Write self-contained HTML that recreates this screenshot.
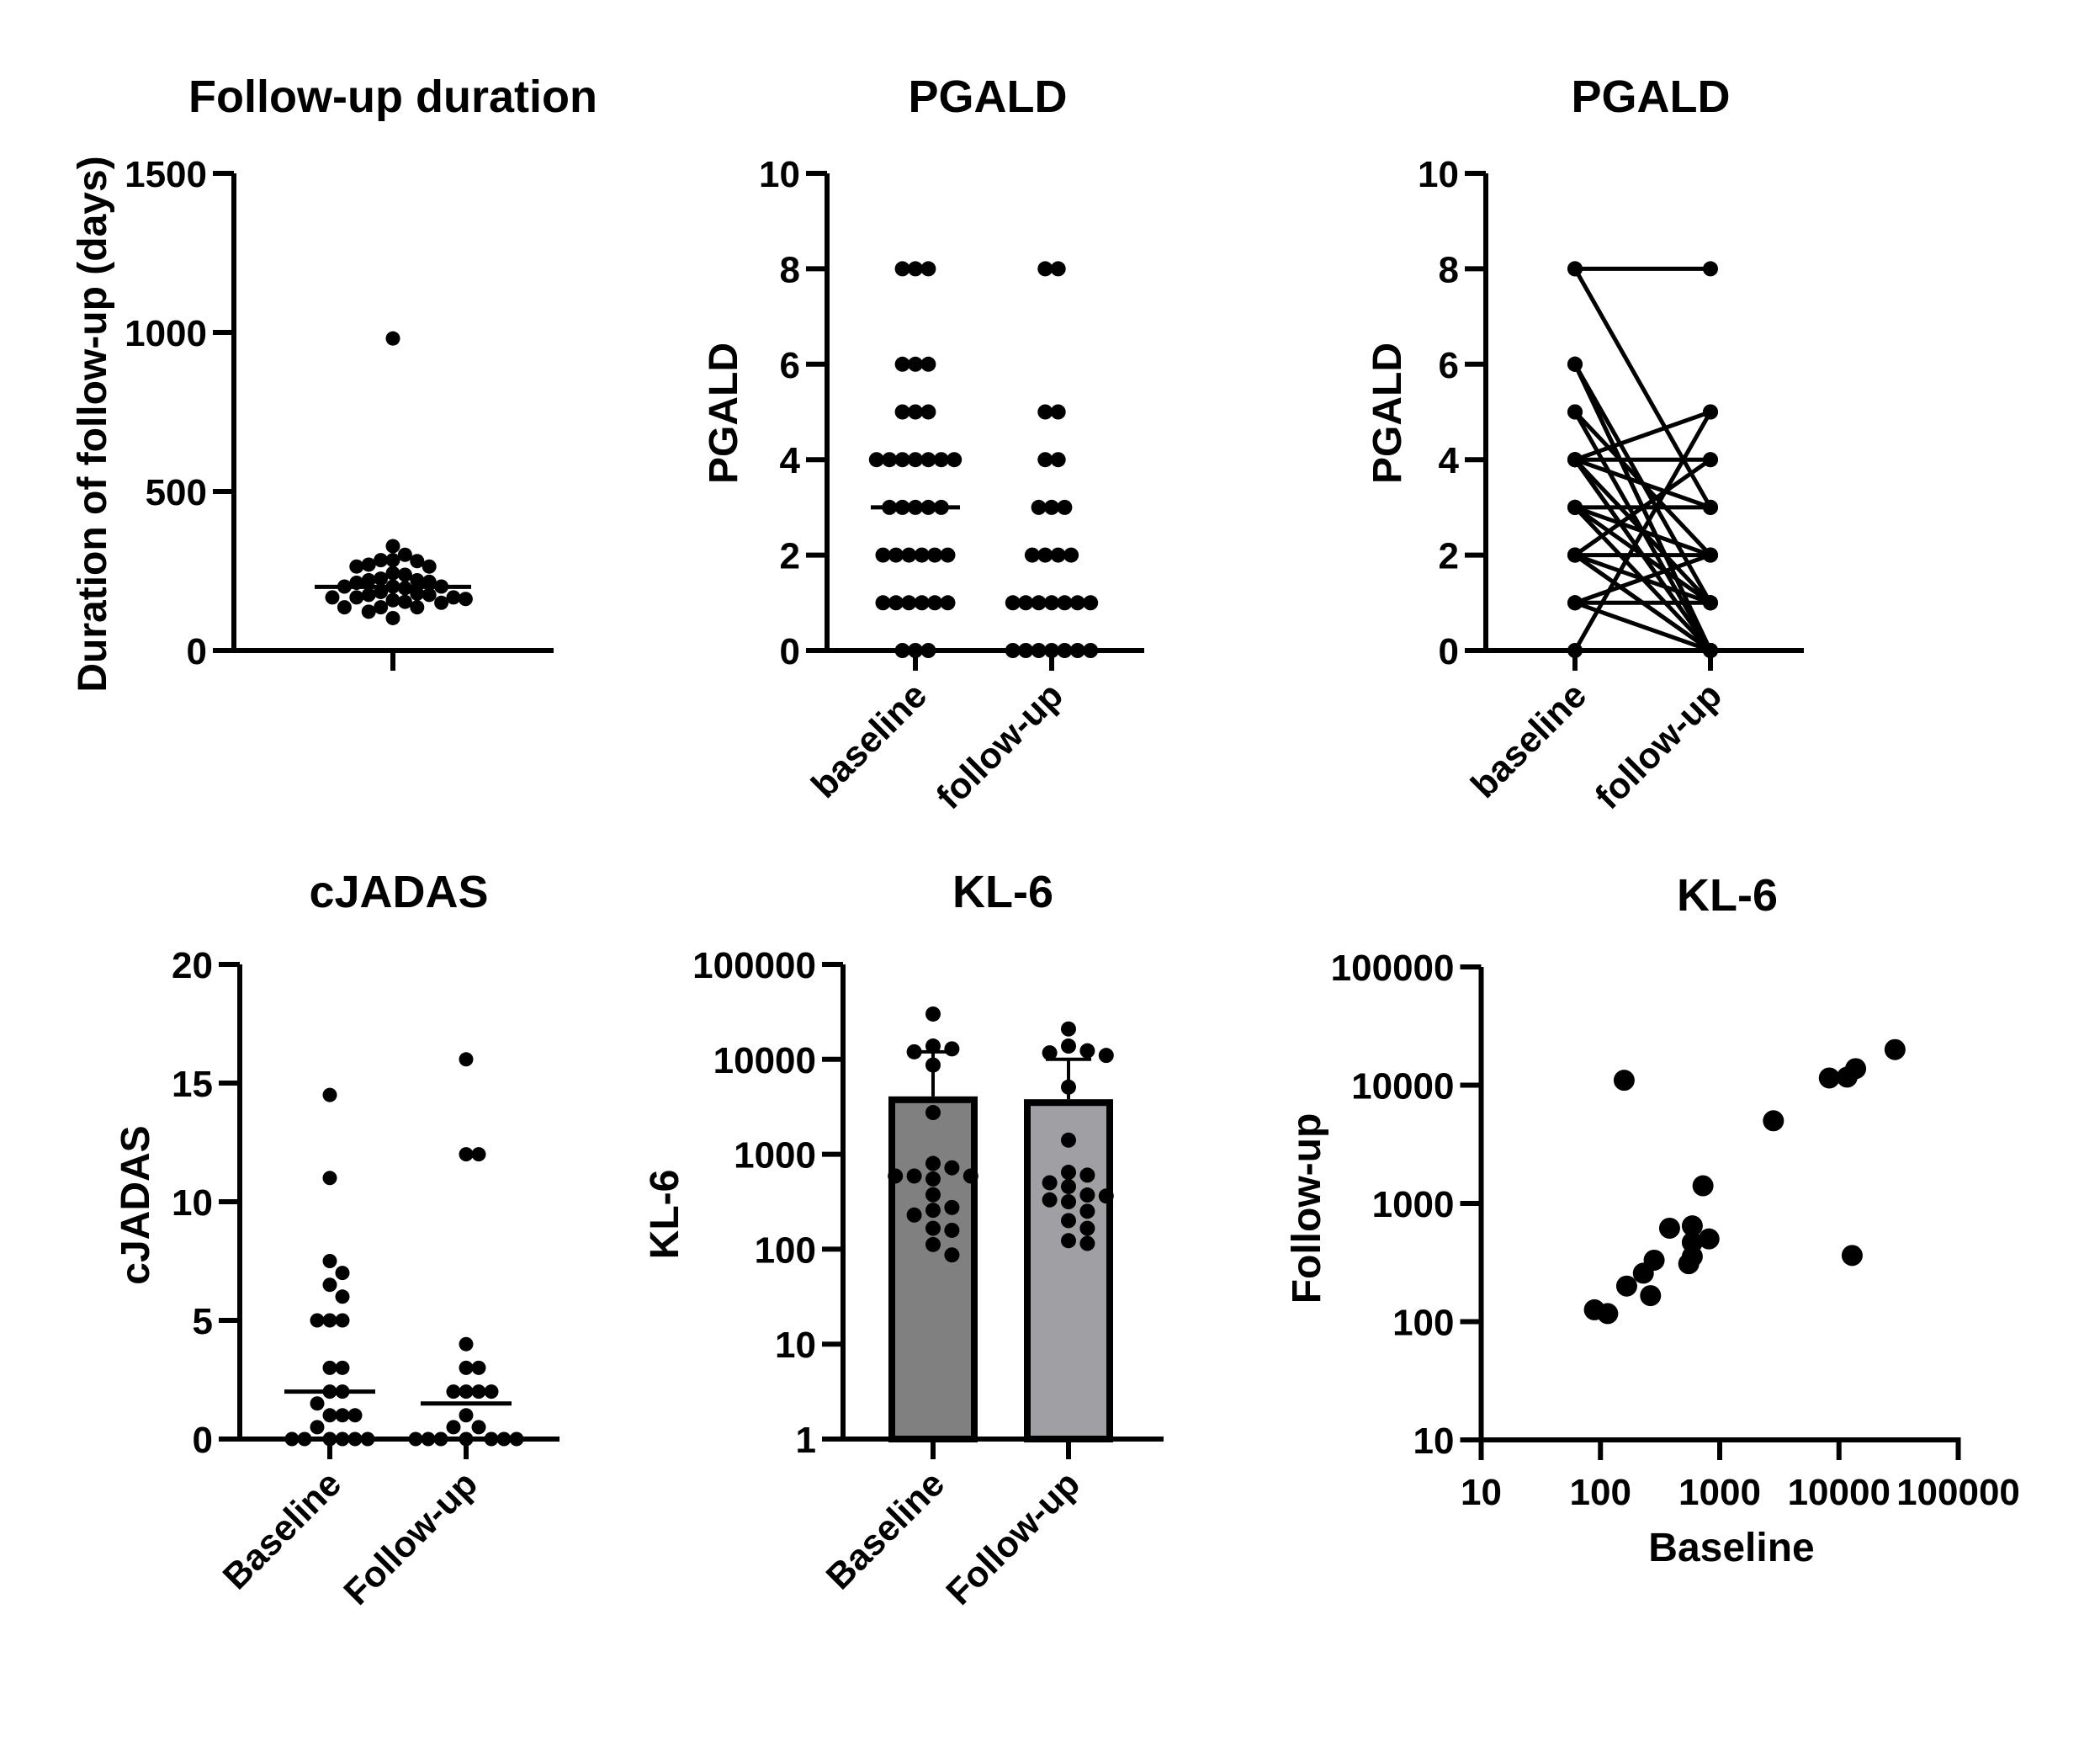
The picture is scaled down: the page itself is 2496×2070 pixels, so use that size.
<!DOCTYPE html>
<html><head><meta charset="utf-8"><title>Clinical panels</title>
<style>
html,body{margin:0;padding:0;background:#fff;}
svg{display:block;font-family:"Liberation Sans",Arial,sans-serif;font-weight:bold;}
</style></head>
<body>
<svg id="fig" width="2496" height="2070" viewBox="0 0 2496 2070" xmlns="http://www.w3.org/2000/svg">
<rect x="0" y="0" width="2496" height="2070" fill="#fff"/>
</svg>
<script>
// ---- Panel 1: follow-up duration (days)
const durTicks = [0, 500, 1000, 1500];
const durValues = [981,328,301,284,284,264,281,264,270,238,243,226,221,221,216,213,201,201,196,201,184,167,175,175,167,167,179,162,153,158,136,136,150,136,122,102];
const durMedian = [200];
// ---- Panel 2: PGALD dot plot
const pgaldCats = ['baseline','follow-up'];
const pgaldTicks = [0,2,4,6,8,10];
const pgaldBaseline = [8,8,8,6,6,6,5,5,5,4,4,4,4,4,4,4,3,3,3,3,3,2,2,2,2,2,2,1,1,1,1,1,1,0,0,0];
const pgaldFollow = [8,8,5,5,4,4,3,3,3,2,2,2,2,1,1,1,1,1,1,1,0,0,0,0,0,0,0];
const pgaldMedians = [3,1];
// ---- Panel 3: PGALD paired
const pairBase = [8,8,6,6,6,5,5,4,4,4,4,4,4,3,3,3,3,2,2,2,2,2,1,1,1,0];
const pairFollow = [8,3,1,0,0,2,0,5,4,3,1,0,0,3,2,1,0,4,2,1,0,0,2,1,0,5];
// ---- Panel 4: cJADAS
const cjCats = ['Baseline','Follow-up'];
const cjTicks = [0,5,10,15,20];
const cjBaseline = [14.5,11,7.5,7,6.5,6,5,5,5,3,3,2,2,1.5,1,1,1,0.5,0,0,0,0,0,0];
const cjFollow = [16,12,12,4,3,3,2,2,2,2,1,0.5,0.5,0,0,0,0,0,0,0];
const cjMedians = [2,1.5];
// ---- Panel 5: KL-6 bars (log)
const klCats = ['Baseline','Follow-up'];
const klTicks = [1,10,100,1000,10000,100000];
const klMeans = [4070,3800];
const klSdTop = [12000,10000];
const klBaseline = [30000,12000,13800,12900,8700,2750,800,720,590,590,590,550,375,275,257,229,158,166,112,87];
const klFollow = [20900,11000,12300,13800,11700,5100,1410,646,603,331,372,457,316,501,363,251,166,200,123,115];
// ---- Panel 6: KL-6 scatter (log-log)
const scTicks = [10,100,1000,10000,100000];
const scBaseline = [158,29500,8300,11700,13800,2820,724,380,589,589,813,589,550,282,229,166,263,89,115,12900];
const scFollow = [11000,20000,11500,11700,13800,5000,1410,617,646,468,501,355,309,331,257,200,166,126,117,363];
const klFill = ['#808080','#a0a0a4'];

const NS = 'http://www.w3.org/2000/svg';
const svg = document.getElementById('fig');
function mk(tag, attrs, parent){
  const el = document.createElementNS(NS, tag);
  for (const k in attrs) el.setAttribute(k, attrs[k]);
  (parent || svg).appendChild(el);
  return el;
}
function group(name){
  const g = mk('g', {});
  
  
  return g;
}
function line(g, x1,y1,x2,y2,w,name){
  const l = mk('line',{x1:x1,y1:y1,x2:x2,y2:y2,stroke:'#000','stroke-width':w},g);
  
  
  return l;
}
function text(g, str, x, y, size, anchor, name, extra){
  const t = mk('text',{x:x,y:y,'font-size':size,'text-anchor':anchor,fill:'#000'},g);
  if (extra) for (const k in extra) t.setAttribute(k, extra[k]);
  t.textContent = str;
  
  
  return t;
}
function dot(g, x, y, r, name){
  const c = mk('circle',{cx:x,cy:y,r:r,fill:'#000'},g);
  
  
  return c;
}
const AX = 6, TICK = 25, TS = 44, TITLE = 54, ATS = 48;
function yAxis(g, ax, yTop, yBot, ticks, ys){
  line(g, ax, yTop, ax, yBot + AX/2, AX, 'y-axis-line');
  ticks.forEach(function(t){
    const y = ys(t);
    line(g, ax - TICK, y, ax, y, AX, 'y-tick');
    text(g, String(t), ax - TICK - 7, y + 16, TS, 'end', 'y-tick-label');
  });
}
function beeswarm(vals, ys, step, r){
  const placed = [];
  const order = vals.map(function(v,i){return i;}).sort(function(a,b){return vals[b]-vals[a];});
  const out = new Array(vals.length);
  order.forEach(function(i){
    const y = ys(vals[i]);
    const cands = [0];
    for (let k=1;k<12;k++){ cands.push(k); cands.push(-k); }
    for (const k of cands){
      const ok = placed.every(function(p){ return p.k !== k || Math.abs(p.y - y) >= 2*r - 2; });
      if (ok){ placed.push({k:k,y:y}); out[i] = k*step; break; }
    }
  });
  return out;
}
function centered(vals, step){
  const counts = {}, idx = {};
  vals.forEach(function(v){ counts[v] = (counts[v]||0)+1; });
  return vals.map(function(v){
    idx[v] = (idx[v]||0);
    const o = (idx[v] - (counts[v]-1)/2) * step;
    idx[v]++;
    return o;
  });
}
function rotLabel(g, str, x, y, name){
  return text(g, str, x, y, 43, 'end', name, {transform:'rotate(-45 '+x+' '+y+')'});
}

// ================= Panel 1
(function(){
  const g = group('panel-follow-up-duration');
  const ax = 278, y0 = 773, yTop = 206;
  const ys = function(v){ return y0 - v/1500*(y0-yTop); };
  text(g, 'Follow-up duration', 467, 133, TITLE, 'middle', 'chart-title');
  text(g, 'Duration of follow-up (days)', 0, 0, ATS, 'middle', 'y-axis-title', {transform:'translate(126 504) rotate(-90)'});
  yAxis(g, ax, yTop, y0, durTicks, ys);
  line(g, ax - TICK, y0, 658, y0, AX, 'x-axis-line');
  line(g, 467, y0, 467, y0 + 24, AX, 'x-tick');
  const off = beeswarm(durValues, ys, 14.4, 8.5);
  durValues.forEach(function(v,i){ dot(g, 467 + off[i], ys(v), 8.5, 'duration-dot'); });
  line(g, 467 - 93, ys(durMedian[0]), 467 + 93, ys(durMedian[0]), 5, 'median-line');
})();

// ================= Panel 2
(function(){
  const g = group('panel-pgald-dots');
  const ax = 983, y0 = 773, yTop = 206;
  const ys = function(v){ return y0 - v/10*(y0-yTop); };
  const xs = [1088, 1250];
  text(g, 'PGALD', 1174, 133, TITLE, 'middle', 'chart-title');
  text(g, 'PGALD', 0, 0, ATS, 'middle', 'y-axis-title', {transform:'translate(876 491) rotate(-90)'});
  yAxis(g, ax, yTop, y0, pgaldTicks, ys);
  line(g, ax - TICK, y0, 1360, y0, AX, 'x-axis-line');
  [pgaldBaseline, pgaldFollow].forEach(function(vals, c){
    line(g, xs[c], y0, xs[c], y0 + 24, AX, 'x-tick');
    rotLabel(g, pgaldCats[c], xs[c] + 16, y0 + 56, 'x-tick-label');
    const off = centered(vals, 15.4);
    vals.forEach(function(v,i){ dot(g, xs[c] + off[i], ys(v), 9, 'pgald-dot-' + pgaldCats[c]); });
    line(g, xs[c] - 53, ys(pgaldMedians[c]), xs[c] + 53, ys(pgaldMedians[c]), 5, 'median-line');
  });
})();

// ================= Panel 3
(function(){
  const g = group('panel-pgald-paired');
  const ax = 1766, y0 = 773, yTop = 206;
  const ys = function(v){ return y0 - v/10*(y0-yTop); };
  const xs = [1872, 2033];
  text(g, 'PGALD', 1962, 133, TITLE, 'middle', 'chart-title');
  text(g, 'PGALD', 0, 0, ATS, 'middle', 'y-axis-title', {transform:'translate(1665 491) rotate(-90)'});
  yAxis(g, ax, yTop, y0, pgaldTicks, ys);
  line(g, ax - TICK, y0, 2144, y0, AX, 'x-axis-line');
  xs.forEach(function(x, c){
    line(g, x, y0, x, y0 + 24, AX, 'x-tick');
    rotLabel(g, pgaldCats[c], x + 16, y0 + 56, 'x-tick-label');
  });
  pairBase.forEach(function(b, i){
    line(g, xs[0], ys(b), xs[1], ys(pairFollow[i]), 5, 'paired-line');
  });
  pairBase.forEach(function(b, i){
    dot(g, xs[0], ys(b), 9, 'paired-dot-baseline');
    dot(g, xs[1], ys(pairFollow[i]), 9, 'paired-dot-follow-up');
  });
})();

// ================= Panel 4
(function(){
  const g = group('panel-cjadas');
  const ax = 285, y0 = 1710, yTop = 1146;
  const ys = function(v){ return y0 - v/20*(y0-yTop); };
  const xs = [392, 554];
  text(g, 'cJADAS', 474, 1078, TITLE, 'middle', 'chart-title');
  text(g, 'cJADAS', 0, 0, ATS, 'middle', 'y-axis-title', {transform:'translate(177 1432) rotate(-90)'});
  yAxis(g, ax, yTop, y0, cjTicks, ys);
  line(g, ax - TICK, y0, 665, y0, AX, 'x-axis-line');
  [cjBaseline, cjFollow].forEach(function(vals, c){
    line(g, xs[c], y0, xs[c], y0 + 24, AX, 'x-tick');
    rotLabel(g, cjCats[c], xs[c] + 16, y0 + 56, 'x-tick-label');
    const off = beeswarm(vals, ys, 15, 8.5);
    vals.forEach(function(v,i){ dot(g, xs[c] + off[i], ys(v), 8.5, 'cjadas-dot-' + cjCats[c].toLowerCase()); });
    line(g, xs[c] - 54, ys(cjMedians[c]), xs[c] + 54, ys(cjMedians[c]), 5, 'median-line');
  });
})();

// ================= Panel 5
(function(){
  const g = group('panel-kl6-bars');
  const ax = 1002, y0 = 1710, yTop = 1146;
  const ys = function(v){ return y0 - Math.log10(v)/5*(y0-yTop); };
  const xs = [1109, 1270];
  text(g, 'KL-6', 1192, 1078, TITLE, 'middle', 'chart-title');
  text(g, 'KL-6', 0, 0, ATS, 'middle', 'y-axis-title', {transform:'translate(806 1443) rotate(-90)'});
  yAxis(g, ax, yTop, y0, klTicks, ys);
  klMeans.forEach(function(m, c){
    const top = ys(m);
    const b = mk('rect',{x:xs[c]-49, y:top+4, width:98, height:y0-top-4, fill:klFill[c], stroke:'#000','stroke-width':8},g);
    
    
    const capW = c === 0 ? 17 : 27;
    line(g, xs[c], top, xs[c], ys(klSdTop[c]), 4, 'error-bar');
    line(g, xs[c] - capW, ys(klSdTop[c]), xs[c] + capW, ys(klSdTop[c]), 4, 'error-bar-cap');
  });
  line(g, ax - TICK, y0, 1383, y0, AX, 'x-axis-line');
  [klBaseline, klFollow].forEach(function(vals, c){
    line(g, xs[c], y0, xs[c], y0 + 24, AX, 'x-tick');
    rotLabel(g, klCats[c], xs[c] + 16, y0 + 56, 'x-tick-label');
    const off = beeswarm(vals, ys, 22.4, 9);
    vals.forEach(function(v,i){ dot(g, xs[c] + off[i], ys(v), 9, 'kl6-dot-' + klCats[c].toLowerCase()); });
  });
})();

// ================= Panel 6
(function(){
  const g = group('panel-kl6-scatter');
  const ax = 1760.5, y0 = 1711;
  const ys = function(v){ return y0 - (Math.log10(v)-1)*140.5; };
  const xsf = function(v){ return ax + (Math.log10(v)-1)*141.75; };
  text(g, 'KL-6', 2053, 1082, TITLE, 'middle', 'chart-title');
  text(g, 'Follow-up', 0, 0, ATS, 'middle', 'y-axis-title', {transform:'translate(1569 1436) rotate(-90)'});
  text(g, 'Baseline', 2058, 1855, ATS, 'middle', 'x-axis-title');
  yAxis(g, ax, ys(100000), y0, scTicks, ys);
  line(g, ax - AX/2, y0, xsf(100000) + AX/2, y0, AX, 'x-axis-line');
  scTicks.forEach(function(t){
    line(g, xsf(t), y0, xsf(t), y0 + 24, AX, 'x-tick');
    text(g, String(t), xsf(t), y0 + 77, TS, 'middle', 'x-tick-label');
  });
  scBaseline.forEach(function(b, i){ dot(g, xsf(b), ys(scFollow[i]), 12.5, 'scatter-dot'); });
})();
</script>
</body></html>
